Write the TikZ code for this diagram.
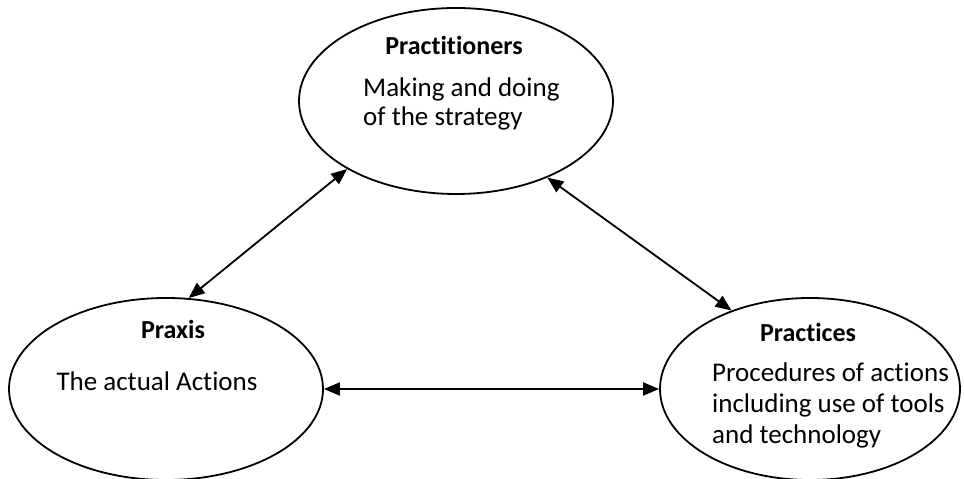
\documentclass[tikz,border=0pt]{standalone}
\usepackage{fontspec}
\setmainfont[Ligatures=NoCommon,RawFeature={-calt;-dlig;-clig}]{Carlito}
\usetikzlibrary{arrows.meta,shapes.geometric}
\begin{document}
\begin{tikzpicture}[x=1pt,y=1pt,
  oval/.style={draw=black, line width=1.8pt, ellipse, inner sep=0pt},
  title/.style={font=\fontsize{26}{30}\selectfont\bfseries, anchor=base, inner sep=0pt},
  body/.style={font=\fontsize{27}{30}\selectfont, anchor=base west, inner sep=0pt},
  link/.style={line width=1.8pt, {Triangle[length=16pt,width=13pt]}-{Triangle[length=16pt,width=13pt]}}]
\useasboundingbox (0,0) rectangle (964,479);

% the three ellipses
\node[oval, minimum width=314pt, minimum height=186pt] (pract) at (456,378) {};
\node[oval, minimum width=314pt, minimum height=182pt] (praxis) at (166,90) {};
\node[oval, minimum width=300pt, minimum height=182pt] (prac) at (810,90) {};

% labels
\node[title] (t1) at (454,424) {Practitioners};
\node[body] (b1a) at (363,382) {Making and doing};
\node[body] (b1b) at (363,353) {of the strategy};

\node[title] (t2) at (173,140) {Praxis};
\node[body, anchor=base] (b2) at (157,88) {The actual Actions};

\node[title] (t3) at (808,137) {Practices};
\node[body] (b3a) at (712,97) {Procedures of actions};
\node[body] (b3b) at (712,66) {including use of tools};
\node[body] (b3c) at (712,35) {and technology};

% two-way connectors
\draw[link] (praxis.76) -- (pract.212);
\draw[link] (pract.320) -- (prac.135);
\draw[link] (praxis.east) -- (prac.west);
\end{tikzpicture}
\end{document}
